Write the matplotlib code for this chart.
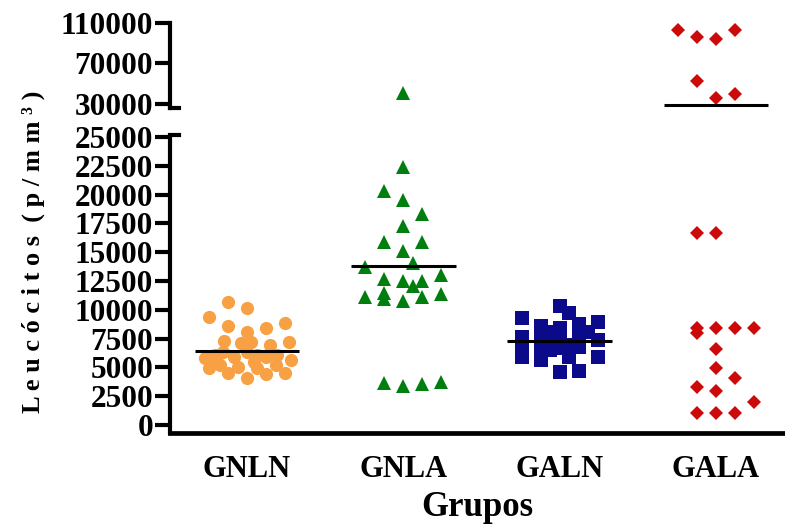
import numpy as np
import matplotlib
matplotlib.use("Agg")
import matplotlib.pyplot as plt
from matplotlib.lines import Line2D

plt.rcParams['font.family'] = ['Liberation Serif', 'DejaVu Serif']
plt.rcParams['font.weight'] = 'bold'

groups = ["GNLN", "GNLA", "GALN", "GALA"]

# jitter columns (in steps) and values
gnln_off = [-1, 0, -2, -1, 0, 1, 2, -1.2, -0.3, 0.2, 1.2, 2.2, -2.2, -1.7, -1.25, -0.7,
            0, 0.5, 1, 1.6, 2.3, -2, -1.4, -1, -0.45, 0, 0.5, 1, 1.5, 2, -1.6, 0.35]
gnln_val = [10700, 10130, 9350, 8620, 8100, 8450, 8880, 7290, 7090, 7230, 6940, 7230,
            5790, 6080, 6360, 5930, 6360, 6080, 5930, 6080, 5640, 4920, 5210, 4490,
            5060, 4110, 4920, 4430, 5210, 4540, 5500, 5500]

gnla_off = [0, 0, -1, 0, 1, 0, -1, 1, 0, 0.5, -2, 2, -1, 0, 0.5, 1,
            -2, -1, -1, 0, 1, 2, -1, 0, 1, 2]
gnla_val = [41200, 22400, 20300, 19500, 18300, 17300, 15850, 15850, 15100, 14100,
            13750, 13000, 12650, 12500, 12050, 12500, 11100, 11450, 10950, 10800,
            11100, 11350, 3650, 3400, 3550, 3750]

galn_off = [-2, -2, -2, -2, -1, -1, -1, -1, 0, 0.5, 0, -0.5, 1, 1, 1.5, 2, 2, 2,
            0, -0.5, 0.5, 0.5, 1, 0, 1, -0.5, 0]
galn_val = [9260, 7670, 6650, 5930, 8620, 7520, 6650, 5640, 10330, 9690, 8390, 8100,
            8770, 7520, 8100, 8970, 7380, 5880, 6650, 6510, 6940, 5930, 6800, 4630,
            4710, 7380, 7520]

gala_off = [-2, -1, 0, 1, -1, 0, 1, -1, 0, -1, -1, 0, 1, 2, 0, 0, 1, -1, 0, 2, -1, 0, 1]
gala_val = [103100, 96500, 94200, 103100, 53000, 36200, 39600, 16640, 16640, 8390,
            7960, 8390, 8390, 8390, 6600, 4970, 4110, 3270, 2950, 2020, 1070, 1010, 1010]

medians = [6450, 13800, 7320, 28700]

offsets = [gnln_off, gnla_off, galn_off, gala_off]
values = [gnln_val, gnla_val, galn_val, gala_val]
markers = ['o', '^', 's', 'D']
sizes = [9.5, 9.5, 10, 6.8]
colors = ['#F7A044', '#007F0E', '#0A0A8A', '#CC0A0A']

lower_ticks = np.arange(0, 25001, 2500)
upper_ticks = [30000, 70000, 110000]
cut = 25000

step = 0.1216
W, H = 785, 524

fig = plt.figure(figsize=(7.85, 5.24), dpi=100)
ax = fig.add_axes([170 / W, (H - 433) / H, 1 - 170 / W, (433 - 137) / H])
ax_up = fig.add_axes([170 / W, (H - 108) / H, 1 - 170 / W, (108 - 23) / H])

for a, upper in ((ax, False), (ax_up, True)):
    for i in range(4):
        x = i + np.array(offsets[i]) * step
        y = np.array(values[i])
        keep = y > cut if upper else y <= cut
        a.plot(x[keep], y[keep], linestyle='none', marker=markers[i], ms=sizes[i],
               color=colors[i], markeredgewidth=0)
        if (medians[i] > cut) == upper:
            a.hlines(medians[i], i - 0.335, i + 0.335, color='black', lw=2.2)
    a.set_xlim(-0.493, 3.442)
    for s in ('top', 'right'):
        a.spines[s].set_visible(False)
    a.spines['left'].set_linewidth(3)
    a.tick_params(axis='y', length=11, width=3, pad=1, labelsize=22.5)

ax.set_ylim(-694, 25000)
ax.set_yticks(lower_ticks)
ax.set_yticklabels([str(v) for v in lower_ticks])
ax.spines['bottom'].set_linewidth(3.4)
ax.set_xticks(range(4))
ax.set_xticklabels(groups, fontsize=22)
ax.tick_params(axis='x', length=0, pad=16)
ax.set_xlabel("Grupos", fontsize=25, fontweight='bold', labelpad=5)

ax_up.set_ylim(26000, 110000)
ax_up.set_yticks(upper_ticks)
ax_up.set_yticklabels([str(v) for v in upper_ticks])
ax_up.spines['bottom'].set_visible(False)
ax_up.set_xticks([])
ax_up.patch.set_alpha(0)

# axis break stubs
fig.add_artist(Line2D([170 / W, 179 / W], [(H - 135) / H] * 2, color='black', lw=3))
fig.add_artist(Line2D([170 / W, 179 / W], [(H - 108) / H] * 2, color='black', lw=3))

fig.text(0.042, (H - 252) / H, "L e u c ó c i t o s  ( p / m m ³ )", rotation=90,
         ha='center', va='center', fontsize=19, fontweight='bold')

fig.savefig("out.png", dpi=100)
